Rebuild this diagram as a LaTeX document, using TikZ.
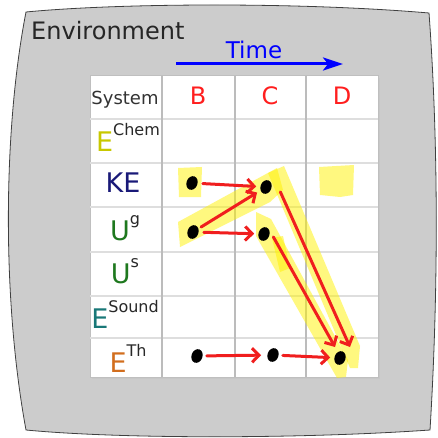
\documentclass[tikz,border=0pt]{standalone}
\usepackage{fontspec}
\setmainfont{DejaVu Sans}
\usetikzlibrary{arrows.meta,shapes.geometric}

\definecolor{envgray}{RGB}{204,204,204}
\definecolor{gridgray}{RGB}{222,222,222}
\definecolor{colgray}{RGB}{188,188,188}
\definecolor{timeblue}{RGB}{0,0,255}
\definecolor{stagered}{RGB}{255,30,30}
\definecolor{flowred}{RGB}{240,30,30}
\definecolor{chemcol}{RGB}{200,200,0}
\definecolor{kecol}{RGB}{25,25,120}
\definecolor{ucol}{RGB}{30,120,30}
\definecolor{soundcol}{RGB}{25,120,120}
\definecolor{thcol}{RGB}{210,110,30}
\definecolor{supgray}{RGB}{40,40,40}

\newcommand{\sups}[1]{\raisebox{16pt}{\fontsize{16}{16}\selectfont\color{supgray}#1}}

\begin{document}
\begin{tikzpicture}[x=1pt, y=-1pt,
  dot/.style={ellipse, fill=black, minimum width=11pt, minimum height=14pt, inner sep=0pt, rotate=-20},
  flow/.style={flowred, line width=3pt, line cap=round, -{Straight Barb[length=7pt,width=14pt]}},
  glow/.style={fill=yellow, fill opacity=0.5},
  stage/.style={font=\fontsize{24}{24}\selectfont, text=stagered, anchor=base},
  qty/.style={font=\fontsize{27}{27}\selectfont, anchor=base, inner sep=0pt}]
  \useasboundingbox (0,0) rectangle (438,438);

  % Environment
  \filldraw[fill=envgray, draw=black!75, line width=0.8pt]
    (26,12) .. controls (120,3) and (300,2) .. (429,13)
    .. controls (439,150) and (438,300) .. (430,430)
    .. controls (300,439) and (120,439) .. (26,430)
    .. controls (2,300) and (3,130) .. cycle;
  \node[font=\fontsize{24}{24}\selectfont, text=black!85, anchor=base west, inner sep=0pt] (env) at (31,40) {Environment};

  % Time arrow
  \coordinate (t0) at (176,64);
  \coordinate (t1) at (343,64);
  \draw[timeblue, line width=3pt, -{Stealth[length=20pt,width=13pt,inset=5pt]}] (t0) -- (t1);
  \node[font=\fontsize{23}{23}\selectfont, text=timeblue, anchor=base] (time) at (254,59) {Time};

  % Table
  \fill[black!22] (92,78) rectangle (380,379);
  \filldraw[fill=white, draw=black!25, line width=1pt] (90,76) rectangle (378,377);
  \foreach \y in {119,163,207,252,296,338}
    \draw[gridgray, line width=1.5pt] (90,\y) -- (378,\y);
  \foreach \x in {162,235,306}
    \draw[colgray, line width=1.8pt] (\x,76) -- (\x,377);

  % Header
  \node[font=\fontsize{18}{18}\selectfont, text=black!80, anchor=base] (sys) at (125,105) {System};
  \node[stage] (hB) at (198,105) {B};
  \node[stage] (hC) at (270,105) {C};
  \node[stage] (hD) at (342,105) {D};

  % Energy rows
  \node[qty, text=chemcol] (chem) at (128,152) {E\sups{Chem}};
  \node[qty, text=kecol] (ke) at (123,193) {KE};
  \node[qty, text=ucol] (ug) at (125,240) {U\sups{g}};
  \node[qty, text=ucol] (us) at (125,283) {U\sups{s}};
  \node[qty, text=soundcol] (snd) at (125,328) {E\sups{Sound}};
  \node[qty, text=thcol] (th) at (128,372) {E\sups{Th}};

  % Highlights
  \fill[glow] (178,168) -- (202,167) -- (201,197) -- (179,197) -- cycle;
  \fill[glow] (319,167) -- (354,165) -- (353,195) -- (340,197) -- (320,195) -- cycle;
  \fill[glow] (178,222) -- (277,168) -- (283,190) -- (270,202) -- (180,247) -- cycle;
  \fill[glow] (268,173) -- (284,166) -- (360,346) -- (358,368) -- (350,368) -- cycle;
  \fill[glow] (256,212) -- (271,219) -- (348,360) -- (346,377) -- (337,378) -- (256,236) -- cycle;
  \fill[glow] (272,238) -- (283,236) -- (290,268) -- (280,272) -- cycle;

  % Dots
  \node[dot] (kB) at (192,183) {};
  \node[dot] (kC) at (266,187) {};
  \node[dot] (uB) at (193,232) {};
  \node[dot] (uC) at (264,234) {};
  \node[dot] (tB) at (197,356) {};
  \node[dot] (tC) at (273,355) {};
  \node[dot] (tD) at (340,358) {};

  % Transfers
  \draw[flow, shorten <=5pt, shorten >=4pt] (kB) -- (kC);
  \draw[flow, shorten <=3pt, shorten >=4pt] (uB) -- (kC);
  \draw[flow, shorten <=5pt, shorten >=4pt] (uB) -- (uC);
  \draw[flow] ([shift={(9pt,-3pt)}]kC.east) -- ([shift={(10pt,11pt)}]tD.center);
  \draw[flow] ([shift={(4pt,-1pt)}]uC.east) -- ([shift={(-5pt,11pt)}]tD.center);
  \draw[flow, shorten <=4pt, shorten >=6pt] (tB) -- (tC);
  \draw[flow, shorten <=4pt, shorten >=4pt] (tC) -- (tD);

\end{tikzpicture}
\end{document}
